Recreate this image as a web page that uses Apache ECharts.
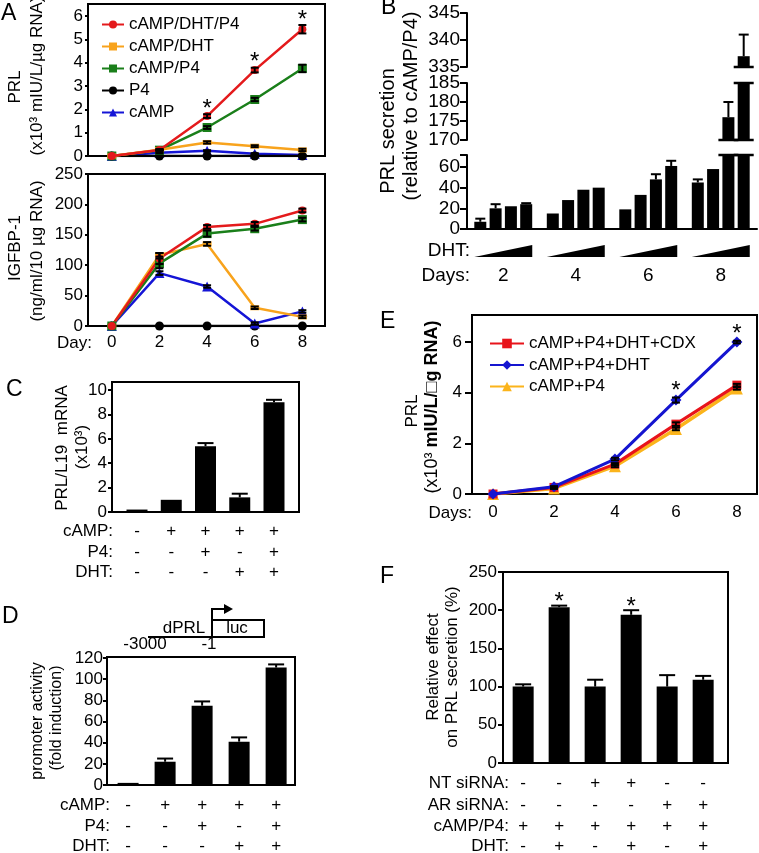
<!DOCTYPE html>
<html><head><meta charset="utf-8">
<script src="https://cdn.jsdelivr.net/npm/echarts@6/dist/echarts.min.js"></script>
<style>html,body{margin:0;padding:0;background:#fff}#c{width:759px;height:853px}</style>
</head><body><div id="c"></div>
<script>
const FF = '"Liberation Sans", Arial, Helvetica, sans-serif';

// ---------- Panel A ----------
const aDays = [0, 2, 4, 6, 8];
const aNames = ['cAMP/DHT/P4', 'cAMP/DHT', 'cAMP/P4', 'P4', 'cAMP'];
const aPrlRed = [0, 0.26, 1.71, 3.68, 5.43];
const aPrlRedErr = [0, 0.03, 0.08, 0.1, 0.18];
const aPrlOrange = [0, 0.27, 0.58, 0.42, 0.26];
const aPrlOrangeErr = [0, 0.02, 0.05, 0.04, 0.05];
const aPrlGreen = [0, 0.25, 1.22, 2.42, 3.75];
const aPrlGreenErr = [0, 0.02, 0.06, 0.07, 0.16];
const aPrlBlack = [0, 0, 0, 0, 0];
const aPrlBlue = [0, 0.14, 0.22, 0.1, 0.04];
const aPrlBlueErr = [0, 0.02, 0.03, 0.02, 0.02];
const aPrlStars = [0, 0, 1, 1, 1];
const aIgfRed = [0, 111, 163, 168, 190];
const aIgfRedErr = [0, 9, 3, 3, 3];
const aIgfOrange = [0, 117, 135, 30, 15];
const aIgfOrangeErr = [0, 3, 3, 2, 2];
const aIgfGreen = [0, 103, 152, 160, 175];
const aIgfGreenErr = [0, 8, 5, 3, 3];
const aIgfBlack = [0, 0, 0, 0, 0];
const aIgfBlue = [0, 87, 65, 4, 24];
const aIgfBlueErr = [0, 3, 2, 2, 2];
const aPrlTicks = [0, 1, 2, 3, 4, 5, 6];
const aIgfTicks = [0, 50, 100, 150, 200, 250];

// ---------- Panel B ----------
const bDays = ['2', '4', '6', '8'];
const bDose1 = [7, 15, 19, 45];
const bDose1Err = [3, 0, 0, 3];
const bDose2 = [20, 28, 33, 58];
const bDose2Err = [4, 0, 0, 0];
const bDose3 = [22, 38, 48, 176];
const bDose3Err = [0, 0, 5, 4];
const bDose4 = [24, 40, 61, 337];
const bDose4Err = [1, 0, 5, 4];
const bTicksLow = [0, 20, 40, 60];
const bTicksMid = [170, 175, 180, 185];
const bTicksTop = [335, 340, 345];

// ---------- Panel C ----------
const cValues = [0.2, 1.0, 5.4, 1.2, 9.0];
const cErr = [0, 0, 0.25, 0.3, 0.2];
const cCamp = ['-', '+', '+', '+', '+'];
const cP4 = ['-', '-', '+', '-', '+'];
const cDht = ['-', '-', '-', '+', '+'];
const cTicks = [0, 2, 4, 6, 8, 10];

// ---------- Panel D ----------
const dValues = [2, 22, 75, 41, 111];
const dErr = [0, 3, 4, 4, 3];
const dCamp = ['-', '+', '+', '+', '+'];
const dP4 = ['-', '-', '+', '-', '+'];
const dDht = ['-', '-', '-', '+', '+'];
const dTicks = [0, 20, 40, 60, 80, 100, 120];

// ---------- Panel E ----------
const eDays = [0, 2, 4, 6, 8];
const eNames = ['cAMP+P4+DHT+CDX', 'cAMP+P4+DHT', 'cAMP+P4'];
const eCdx = [0, 0.26, 1.18, 2.76, 4.3];
const eCdxErr = [0, 0.02, 0.04, 0.07, 0.05];
const eDht = [0, 0.29, 1.38, 3.71, 6.0];
const eDhtErr = [0, 0.02, 0.05, 0.1, 0.05];
const eP4 = [0, 0.22, 1.1, 2.57, 4.17];
const eP4Err = [0, 0.02, 0.04, 0.05, 0.05];
const eStars = [0, 0, 0, 1, 1];
const eTicks = [0, 2, 4, 6];

// ---------- Panel F ----------
const fValues = [100, 204, 100, 194, 100, 109];
const fErr = [3, 2, 9, 6, 15, 5];
const fStars = [0, 1, 0, 1, 0, 0];
const fNt = ['-', '-', '+', '+', '-', '-'];
const fAr = ['-', '-', '-', '-', '+', '+'];
const fCampP4 = ['+', '+', '+', '+', '+', '+'];
const fDht = ['-', '+', '-', '+', '-', '+'];
const fTicks = [0, 50, 100, 150, 200, 250];

// ================= helpers =================
const BLACK = '#000';
function boxGrid(left, top, width, height, box) {
  return {left, top, width, height, show: !!box, borderColor: BLACK, borderWidth: 2,
    backgroundColor: 'transparent', containLabel: false, outerBoundsMode: 'none'};
}
function yAx(gi, min, max, ticks, o) {
  o = o || {};
  return {type: 'value', gridIndex: gi, min, max,
    axisLine: {show: true, onZero: false, lineStyle: {color: BLACK, width: 2}},
    axisTick: {show: true, length: o.tl || 4, lineStyle: {color: BLACK, width: 2}, customValues: o.tickVals || ticks},
    axisLabel: {show: true, customValues: ticks, margin: o.margin || 5, color: BLACK, fontSize: o.fs || 17, fontFamily: FF},
    splitLine: {show: false}};
}
function xVal(gi, min, max, labels, o) {
  o = o || {};
  return {type: 'value', gridIndex: gi, min, max,
    axisLine: {show: true, onZero: false, lineStyle: {color: BLACK, width: 2}},
    axisTick: {show: false},
    axisLabel: labels ? {show: true, customValues: labels, margin: o.margin || 8, color: BLACK, fontSize: o.fs || 17, fontFamily: FF} : {show: false},
    splitLine: {show: false}};
}
function lineS(name, gi, xs, ys, color, symbol, size, lw, z) {
  return {type: 'line', name, xAxisIndex: gi, yAxisIndex: gi,
    data: xs.map((x, i) => [x, ys[i]]), symbol, symbolSize: size, showAllSymbol: true,
    lineStyle: {color, width: lw}, itemStyle: {color, borderWidth: 0}, z: z || 2, silent: true};
}
function errS(gi, xs, ys, es, stars, o) {
  o = o || {};
  const capH = o.cap || 4, up = !!o.up, gap = o.gap || 11, fs = 24;
  return {type: 'custom', xAxisIndex: gi, yAxisIndex: gi, clip: false, silent: true, z: 5,
    data: xs.map((x, i) => [x, ys[i], es[i], stars ? stars[i] : 0]),
    encode: {x: 0, y: 1},
    renderItem: (params, api) => {
      const x = api.value(0), y = api.value(1), e = api.value(2), s = api.value(3);
      const ch = [];
      const pT = api.coord([x, y + e]);
      const st = {stroke: BLACK, lineWidth: 2};
      if (e > 0) {
        const pB = api.coord([x, up ? y : y - e]);
        ch.push({type: 'line', shape: {x1: pT[0], y1: pT[1], x2: pB[0], y2: pB[1]}, style: st});
        ch.push({type: 'line', shape: {x1: pT[0] - capH, y1: pT[1], x2: pT[0] + capH, y2: pT[1]}, style: st});
        if (!up) ch.push({type: 'line', shape: {x1: pB[0] - capH, y1: pB[1], x2: pB[0] + capH, y2: pB[1]}, style: st});
      }
      if (s) ch.push({type: 'text', x: pT[0], y: pT[1] - gap + fs * 0.25,
        style: {text: '*', fontSize: fs, fontFamily: FF, fill: BLACK, align: 'center', verticalAlign: 'middle'}});
      return {type: 'group', children: ch};
    }};
}
function rowsS(gi, rows, offs) {
  return {type: 'custom', xAxisIndex: gi, yAxisIndex: gi, clip: false, silent: true, z: 10,
    data: rows[0].map((_, i) => [i, 0]), encode: {x: 0, y: 1},
    renderItem: (params, api) => {
      const i = api.value(0); const p = api.coord([i, 0]);
      return {type: 'group', children: rows.map((r, k) => ({type: 'text', x: p[0], y: p[1] + offs[k],
        style: {text: r[i], fontSize: 17, fontFamily: FF, fill: BLACK, align: 'center', verticalAlign: 'middle'}}))};
    }};
}
function barS(gi, vals, w) {
  return {type: 'bar', xAxisIndex: gi, yAxisIndex: gi, data: vals.map((v, i) => [i, v]),
    barWidth: w, itemStyle: {color: BLACK}, silent: true, z: 3};
}

// ---- B segments ----
const bVals = [bDose1, bDose2, bDose3, bDose4];
const bErrs = [bDose1Err, bDose2Err, bDose3Err, bDose4Err];
const B_BW = 12, B_STEP = 15.3;
function bBars(gi) {
  return bVals.map(v => ({type: 'bar', xAxisIndex: gi, yAxisIndex: gi, data: v, barWidth: B_BW, barGap: '27.5%',
    itemStyle: {color: BLACK}, clip: true, silent: true, z: 3}));
}
function bSeg(gi, segMin, segMax) {
  const data = [];
  bDays.forEach((d, di) => bVals.forEach((v, j) => data.push([di, v[di], bErrs[j][di], j])));
  return {type: 'custom', xAxisIndex: gi, yAxisIndex: gi, clip: false, silent: true, z: 6, data, encode: {x: 0, y: 1},
    renderItem: (params, api) => {
      const di = api.value(0), v = api.value(1), e = api.value(2), j = api.value(3);
      const cx = api.coord([di, segMin])[0] + (j - 1.5) * B_STEP;
      const ch = [];
      const st = {stroke: BLACK, lineWidth: 2.5};
      const cap = (yv, h) => { const yy = api.coord([di, yv])[1];
        ch.push({type: 'line', shape: {x1: cx - h, y1: yy, x2: cx + h, y2: yy}, style: st}); };
      if (v > segMax) cap(segMax, 10);
      if (segMin > 0 && v > segMin) cap(segMin, 10);
      if (v >= segMin && v <= segMax && e > 0) {
        const a = api.coord([di, v])[1], b = api.coord([di, v + e])[1];
        ch.push({type: 'line', shape: {x1: cx, y1: a, x2: cx, y2: b}, style: {stroke: BLACK, lineWidth: 2}});
        ch.push({type: 'line', shape: {x1: cx - 5, y1: b, x2: cx + 5, y2: b}, style: {stroke: BLACK, lineWidth: 2}});
      }
      return {type: 'group', children: ch};
    }};
}
function bWedges(gi) {
  return {type: 'custom', xAxisIndex: gi, yAxisIndex: gi, clip: false, silent: true,
    data: bDays.map((d, i) => [i, 0]), encode: {x: 0, y: 1},
    renderItem: (params, api) => {
      const p = api.coord([api.value(0), 0]);
      return {type: 'polygon', shape: {points: [[p[0] - 29, p[1] + 28], [p[0] + 29, p[1] + 28], [p[0] + 29, p[1] + 16]]},
        style: {fill: BLACK}};
    }};
}

const aColors = ['#e41a1c', '#f8a31c', '#1a7f1a', '#000000', '#1515d6'];
const aSym = ['circle', 'rect', 'rect', 'circle', 'triangle'];
const aSize = [8, [9, 5], 9, 9, 10];
const aPrl = [aPrlRed, aPrlOrange, aPrlGreen, aPrlBlack, aPrlBlue];
const aIgf = [aIgfRed, aIgfOrange, aIgfGreen, aIgfBlack, aIgfBlue];
const aDraw = [3, 4, 1, 2, 0];

const series = [];
aDraw.forEach(k => series.push(lineS(aNames[k], 0, aDays, aPrl[k], aColors[k], aSym[k], aSize[k], 2.5, 2 + (4 - k) * 0.01)));
aDraw.forEach(k => series.push(lineS(aNames[k], 1, aDays, aIgf[k], aColors[k], aSym[k], aSize[k], 2.5, 2)));
series.push(errS(0, aDays, aPrlGreen, aPrlGreenErr, null, {cap: 4}));
series.push(errS(0, aDays, aPrlOrange, aPrlOrangeErr, null, {cap: 4}));
series.push(errS(0, aDays, aPrlBlue, aPrlBlueErr, null, {cap: 4}));
series.push(errS(0, aDays, aPrlRed, aPrlRedErr, aPrlStars, {cap: 4, gap: 11}));
series.push(errS(1, aDays, aIgfRed, aIgfRedErr, null, {cap: 4}));
series.push(errS(1, aDays, aIgfOrange, aIgfOrangeErr, null, {cap: 4}));
series.push(errS(1, aDays, aIgfGreen, aIgfGreenErr, null, {cap: 4}));
series.push(errS(1, aDays, aIgfBlue, aIgfBlueErr, null, {cap: 4}));

// B
[2, 3, 4].forEach(g => bBars(g).forEach(s => series.push(s)));
series.push(bSeg(2, 0, 71.6));
series.push(bSeg(3, 170, 185));
series.push(bSeg(4, 335, 345));
series.push(bWedges(2));

// C
series.push(barS(5, cValues, 21));
series.push(errS(5, cValues.map((v, i) => i), cValues, cErr, null, {cap: 8, up: true}));
series.push(rowsS(5, [cCamp, cP4, cDht], [19, 40, 60]));
// D
series.push(barS(6, dValues, 21));
series.push(errS(6, dValues.map((v, i) => i), dValues, dErr, null, {cap: 8, up: true}));
series.push(rowsS(6, [dCamp, dP4, dDht], [20, 41, 61]));
// E
const eColors = ['#e8141b', '#1515d0', '#fbb41b'];
series.push(lineS(eNames[2], 7, eDays, eP4, eColors[2], 'triangle', 12, 3.5, 2));
series.push(lineS(eNames[0], 7, eDays, eCdx, eColors[0], 'rect', 9, 3, 2.1));
series.push(lineS(eNames[1], 7, eDays, eDht, eColors[1], 'diamond', 11, 3, 2.2));
series.push(errS(7, eDays, eCdx, eCdxErr, null, {cap: 4}));
series.push(errS(7, eDays, eP4, eP4Err, null, {cap: 4}));
series.push(errS(7, eDays, eDht, eDhtErr, eStars, {cap: 4, gap: 12}));
// F
series.push(barS(8, fValues, 21));
series.push(errS(8, fValues.map((v, i) => i), fValues, fErr, fStars, {cap: 8, up: true, gap: 9}));
series.push(rowsS(8, [fNt, fAr, fCampP4, fDht], [20, 42, 63, 83]));

// ================= graphics =================
function T(text, x, y, o) {
  o = o || {};
  const el = {type: 'text', x, y, rotation: o.rot || 0, silent: true,
    style: {text, fontSize: o.fs || 17, fontFamily: FF, fill: BLACK, align: o.align || 'center', verticalAlign: 'middle',
      fontWeight: o.fw || 'normal'}};
  if (o.rich) el.style.rich = o.rich;
  return el;
}
const R = Math.PI / 2;
const graphic = [
  T('A', 1, 14, {fs: 23, align: 'left'}), T('B', 381, 8, {fs: 23, align: 'left'}),
  T('C', 6, 390, {fs: 23, align: 'left'}), T('D', 2, 617, {fs: 23, align: 'left'}),
  T('E', 380, 322, {fs: 23, align: 'left'}), T('F', 380, 577, {fs: 23, align: 'left'}),
  T('PRL', 15, 87, {rot: R}), T('(x10³ mIU/L/µg RNA)', 37, 76, {rot: R}),
  T('IGFBP-1', 15, 248, {rot: R}), T('(ng/ml/10 µg RNA)', 37, 251, {rot: R}),
  T('PRL secretion', 388, 131, {rot: R, fs: 20}), T('(relative to cAMP/P4)', 411, 106, {rot: R, fs: 20}),
  T('PRL/L19  mRNA', 62, 448, {rot: R}), T('(x10³)', 82, 447, {rot: R}),
  T('promoter activity', 38, 721, {rot: R, fs: 16}), T('(fold induction)', 57, 718, {rot: R, fs: 16}),
  T('PRL', 412, 411, {rot: R}),
  T('{n|(x10³ }{b|mIU/L/□g RNA)}', 432, 407, {rot: R, rich: {n: {fontSize: 18, fontFamily: FF, fill: BLACK}, b: {fontSize: 18, fontFamily: FF, fontWeight: 'bold', fill: BLACK}}}),
  T('Relative effect', 433, 667, {rot: R}), T('on PRL secretion (%)', 452, 667, {rot: R}),
  T('Day:', 92, 343, {align: 'right'}),
  T('DHT:', 470, 251, {align: 'right', fs: 19}), T('Days:', 470, 276, {align: 'right', fs: 19}),
  T('Days:', 472, 513, {align: 'right'}),
  T('cAMP:', 113, 531, {align: 'right'}), T('P4:', 113, 552, {align: 'right'}), T('DHT:', 113, 572, {align: 'right'}),
  T('cAMP:', 110, 805, {align: 'right'}), T('P4:', 110, 826, {align: 'right'}), T('DHT:', 110, 846, {align: 'right'}),
  T('NT siRNA:', 509, 783, {align: 'right'}), T('AR siRNA:', 509, 805, {align: 'right'}),
  T('cAMP/P4:', 509, 826, {align: 'right'}), T('DHT:', 509, 846, {align: 'right'}),
  // promoter diagram
  {type: 'polyline', silent: true, shape: {points: [[148, 637], [212, 637], [212, 609], [226, 609]]}, style: {stroke: BLACK, lineWidth: 2, fill: null}},
  {type: 'polygon', silent: true, shape: {points: [[224, 604], [233, 609], [224, 614]]}, style: {fill: BLACK}},
  {type: 'rect', silent: true, shape: {x: 212, y: 620, width: 52, height: 17}, style: {stroke: BLACK, lineWidth: 2, fill: null}},
  T('dPRL', 184, 628), T('luc', 237, 628), T('-3000', 145, 644), T('-1', 209, 644)
];

const option = {
  animation: false,
  backgroundColor: '#fff',
  textStyle: {fontFamily: FF},
  grid: [
    boxGrid(88, 4, 237, 152, true),
    boxGrid(88, 174, 237, 152, true),
    boxGrid(467, 155, 290, 74, false),
    boxGrid(467, 83, 290, 57, false),
    boxGrid(467, 13, 290, 54, false),
    boxGrid(112, 382, 187, 130, true),
    boxGrid(107, 657, 188, 128, true),
    boxGrid(472, 315, 285, 179, true),
    boxGrid(503, 572, 225, 191, true)
  ],
  xAxis: [
    xVal(0, -1, 8.95, null),
    xVal(1, -1, 8.95, aDays, {margin: 8}),
    {type: 'category', gridIndex: 2, data: bDays, axisLine: {show: true, lineStyle: {color: BLACK, width: 2}},
      axisTick: {show: false}, axisLabel: {margin: 37, fontSize: 19, color: BLACK, fontFamily: FF}},
    {type: 'category', gridIndex: 3, data: bDays, show: false},
    {type: 'category', gridIndex: 4, data: bDays, show: false},
    xVal(5, -0.73, 4.73, null),
    xVal(6, -0.57, 4.51, null),
    xVal(7, -0.69, 8.66, eDays, {margin: 10}),
    xVal(8, -0.56, 5.69, null)
  ],
  yAxis: [
    yAx(0, 0, 6.51, aPrlTicks, {margin: 5, tl: 3}),
    yAx(1, 0, 250, aIgfTicks, {margin: 5, tl: 3}),
    yAx(2, 0, 71.6, bTicksLow, {fs: 19, margin: 7, tl: 7, tickVals: [0, 20, 40, 60, 71.6]}),
    yAx(3, 170, 185, bTicksMid, {fs: 19, margin: 7, tl: 7}),
    yAx(4, 335, 345, bTicksTop, {fs: 19, margin: 7, tl: 7}),
    yAx(5, 0, 10.66, cTicks, {margin: 5, tl: 4}),
    yAx(6, 0, 121, dTicks, {margin: 4, tl: 4}),
    yAx(7, 0, 7.07, eTicks, {margin: 10, tl: 7}),
    yAx(8, 0, 250, fTicks, {margin: 6, tl: 5})
  ],
  legend: [
    {orient: 'vertical', left: 96, top: 11, itemWidth: 22, itemHeight: 10, itemGap: 5,
      textStyle: {fontSize: 17, color: BLACK, fontFamily: FF}, data: aNames, selectedMode: false},
    {orient: 'vertical', left: 484, top: 330, itemWidth: 34, itemHeight: 12, itemGap: 4.5,
      textStyle: {fontSize: 17, color: BLACK, fontFamily: FF}, data: eNames, selectedMode: false}
  ],
  series,
  graphic
};
const chart = echarts.init(document.getElementById('c'), null, {renderer: 'canvas'});
chart.setOption(option);
</script></body></html>
